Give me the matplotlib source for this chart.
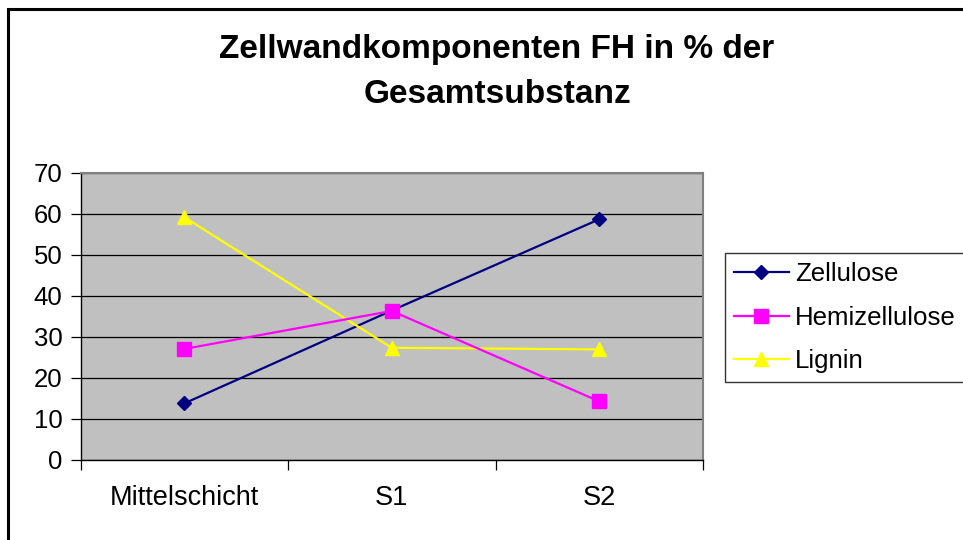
import matplotlib
matplotlib.use("Agg")
import matplotlib.pyplot as plt
from matplotlib.patches import Rectangle

plt.rcParams['font.family'] = ['Liberation Sans', 'DejaVu Sans']

categories = ["Mittelschicht", "S1", "S2"]
zellulose = [13.7, 36.4, 58.7]
hemizellulose = [27.0, 36.3, 14.2]
lignin = [59.2, 27.3, 26.9]
y_ticks = [0, 10, 20, 30, 40, 50, 60, 70]
title = "Zellwandkomponenten FH in % der\nGesamtsubstanz"

W, H = 963, 540
fig = plt.figure(figsize=(W / 100, H / 100), dpi=100)
fig.patch.set_facecolor("white")

# outer border (extends beyond right/bottom edges)
fig.patches.append(Rectangle((8 / W, -0.05), 1.1, 1 - 9 / H + 0.05,
                             transform=fig.transFigure, fill=False,
                             edgecolor="black", linewidth=2.2, zorder=0))

left, right = 80.5 / W, 703 / W
bottom, top = 1 - 459.5 / H, 1 - 173 / H
ax = fig.add_axes([left, bottom, right - left, top - bottom])
ax.set_facecolor("#C0C0C0")

x = list(range(len(categories)))
ax.plot(x, zellulose, color="#000080", marker="D", markersize=7.5, linewidth=1.6,
        label="Zellulose", zorder=3)
ax.plot(x, hemizellulose, color="#FF00FF", marker="s", markersize=9.5, linewidth=1.6,
        label="Hemizellulose", zorder=4)
ax.plot(x, lignin, color="#FFFF00", marker="^", markersize=10.5, linewidth=1.6,
        label="Lignin", zorder=3)

ax.set_ylim(0, 70)
ax.set_xlim(-0.5, len(categories) - 0.5)
ax.set_yticks(y_ticks)
ax.set_yticklabels([str(v) for v in y_ticks], fontsize=18.5)
ax.yaxis.grid(True, color="black", linewidth=0.9)
ax.set_axisbelow(True)

ax.set_xticks([i - 0.5 for i in range(len(categories) + 1)])
ax.set_xticklabels([])
ax.set_xticks(x, minor=True)
ax.set_xticklabels(categories, minor=True, fontsize=19.5)
ax.tick_params(axis="x", which="minor", length=0, pad=18.5)
ax.tick_params(axis="x", which="major", length=7, width=0.9, direction="out")
ax.tick_params(axis="y", length=7, width=0.9, direction="out", pad=6)

for s in ["left", "bottom"]:
    ax.spines[s].set_color("black")
    ax.spines[s].set_linewidth(1.0)
for s in ["top", "right"]:
    ax.spines[s].set_color("#808080")
    ax.spines[s].set_linewidth(1.5)

fig.text(497 / W, 1 - 72 / H, title, ha="center", va="center", fontsize=24,
         fontweight="bold", linespacing=1.6)

leg = fig.legend(loc="upper left", bbox_to_anchor=(725 / W, 1 - 253 / H),
                 fontsize=18.6, frameon=True, fancybox=False, borderaxespad=0,
                 handlelength=2.1, handletextpad=0.25, labelspacing=0.75,
                 borderpad=0.36)
leg.get_frame().set_edgecolor("black")
leg.get_frame().set_linewidth(1.0)

fig.savefig("out.png", dpi=100)
